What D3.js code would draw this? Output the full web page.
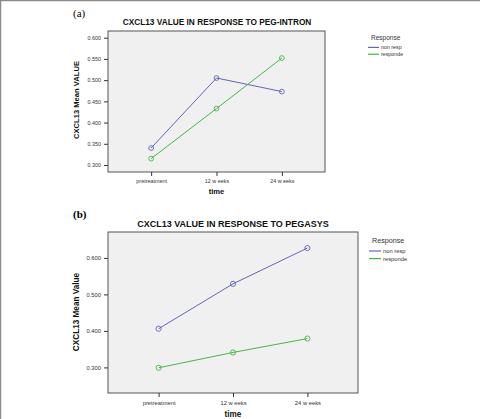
<!DOCTYPE html>
<html><head><meta charset="utf-8">
<script src="https://cdn.jsdelivr.net/npm/d3@7"></script>
<style>body{margin:0;background:#fff}svg{display:block}text{font-family:"Liberation Sans",Arial,sans-serif}</style>
</head><body><svg id="c" width="481" height="419"></svg>
<script>
const categories = ["pretreatment", "12 w eeks", "24 w eeks"];
const seriesNames = ["non resp", "responde"];
const pegIntronNonResp = [0.340, 0.505, 0.473];
const pegIntronResponde = [0.315, 0.433, 0.552];
const pegasysNonResp = [0.406, 0.529, 0.627];
const pegasysResponde = [0.299, 0.341, 0.379];
const ticksA = [0.300, 0.350, 0.400, 0.450, 0.500, 0.550, 0.600];
const ticksB = [0.300, 0.400, 0.500, 0.600];
const colors = ["#6464bc", "#44b844"];

const svg = d3.select("#c");
// outer frame (top and left)
svg.append("line").attr("x1",0.5).attr("y1",0.5).attr("x2",480).attr("y2",0.5).attr("stroke","#8a8a8a").attr("stroke-width",1.5);
svg.append("line").attr("x1",0.5).attr("y1",0).attr("x2",0.5).attr("y2",419).attr("stroke","#8a8a8a").attr("stroke-width",1.5);

function panel(cfg){
  const g = svg.append("g");
  g.append("text").attr("x",cfg.lx).attr("y",cfg.ly)
    .attr("font-size",cfg.labelSize).attr("font-weight",cfg.labelBold?"bold":"normal").text(cfg.label).style("font-family","'Liberation Serif',serif");
  g.append("text").attr("x",cfg.titleX).attr("y",cfg.titleY).attr("text-anchor","middle")
    .attr("font-size",cfg.titleSize).attr("font-weight","bold").attr("fill","#111").text(cfg.title);
  const x = d3.scalePoint().domain(categories).range([cfg.x0,cfg.x1]).padding(cfg.pad);
  const y = d3.scaleLinear().domain(cfg.ydom).range([cfg.y1,cfg.y0]);
  g.append("rect").attr("x",cfg.x0).attr("y",cfg.y0).attr("width",cfg.x1-cfg.x0).attr("height",cfg.y1-cfg.y0)
    .attr("fill","#f0f0f0").attr("stroke","#555").attr("stroke-width",1);
  const ya = g.append("g").attr("transform",`translate(${cfg.x0},0)`)
    .call(d3.axisLeft(y).tickValues(cfg.ticks).tickFormat(d3.format(".3f")).tickSize(4).tickPadding(3));
  ya.select(".domain").remove();
  ya.selectAll("text").attr("font-size",cfg.tickSize).attr("fill","#333").style("font-family","'Liberation Sans',Arial,sans-serif");
  ya.selectAll("line").attr("stroke","#333");
  const xa = g.append("g").attr("transform",`translate(0,${cfg.y1})`)
    .call(d3.axisBottom(x).tickSize(4).tickPadding(cfg.xpad));
  xa.select(".domain").remove();
  xa.selectAll("text").attr("font-size",cfg.tickSize).attr("fill","#333").style("font-family","'Liberation Sans',Arial,sans-serif");
  xa.selectAll("line").attr("stroke","#333");
  g.append("text").attr("x",(x(categories[1]))).attr("y",cfg.timeY).attr("text-anchor","middle")
    .attr("font-size",cfg.axisSize).attr("font-weight","bold").attr("fill","#111").text("time");
  g.append("text").attr("transform",`translate(${cfg.yLabX},${cfg.yLabY}) rotate(-90)`).attr("text-anchor","middle")
    .attr("font-size",cfg.axisSize).attr("font-weight","bold").attr("fill","#111").text(cfg.yLabel);
  const line = d3.line().x((d,i)=>x(categories[i])).y(d=>y(d));
  cfg.series.forEach((s,k)=>{
    g.append("path").attr("d",line(s)).attr("fill","none").attr("stroke",colors[k]).attr("stroke-width",1);
    g.selectAll(null).data(s).enter().append("circle").attr("cx",(d,i)=>x(categories[i])).attr("cy",d=>y(d))
      .attr("r",cfg.r).attr("fill","none").attr("stroke",colors[k]).attr("stroke-width",0.9);
  });
  // legend
  g.append("text").attr("x",cfg.legX).attr("y",cfg.legY).attr("font-size",cfg.legTitleSize).attr("fill","#333").text("Response");
  seriesNames.forEach((n,k)=>{
    const yy = cfg.legY + cfg.legGap*(k+1) + cfg.legOff;
    g.append("line").attr("x1",cfg.legX-3).attr("x2",cfg.legX+cfg.legLine).attr("y1",yy).attr("y2",yy).attr("stroke",colors[k]).attr("stroke-width",1.2);
    g.append("text").attr("x",cfg.legX+cfg.legLine+2).attr("y",yy+2).attr("font-size",cfg.legSize).attr("fill","#333").text(n);
  });
}

panel({label:"(a)",lx:73,ly:17,labelSize:11,labelBold:false,
  title:"CXCL13 VALUE IN RESPONSE TO PEG-INTRON",titleX:217,titleY:25,titleSize:8.3,
  x0:108,x1:325,y0:31,y1:172,pad:0.66,ydom:[0.2835,0.6158],ticks:ticksA,tickSize:5.4,xpad:3,
  timeY:194,axisSize:7.6,yLabel:"CXCL13 Mean VALUE",yLabX:79,yLabY:100,
  series:[pegIntronNonResp,pegIntronResponde],r:2.4,
  legX:371,legY:40,legTitleSize:6.5,legGap:6.8,legOff:0.6,legLine:8,legSize:5.3});

panel({label:"(b)",lx:73,ly:218,labelSize:11,labelBold:true,
  title:"CXCL13 VALUE IN RESPONSE TO PEGASYS",titleX:233,titleY:227,titleSize:9,
  x0:108,x1:358,y0:232,y1:393,pad:0.68,ydom:[0.2299,0.671],ticks:ticksB,tickSize:5.8,xpad:4,
  timeY:417,axisSize:8.2,yLabel:"CXCL13 Mean Value",yLabX:79,yLabY:312,
  series:[pegasysNonResp,pegasysResponde],r:2.6,
  legX:372,legY:243,legTitleSize:7.2,legGap:7.6,legOff:0.4,legLine:9,legSize:5.8});
</script></body></html>
